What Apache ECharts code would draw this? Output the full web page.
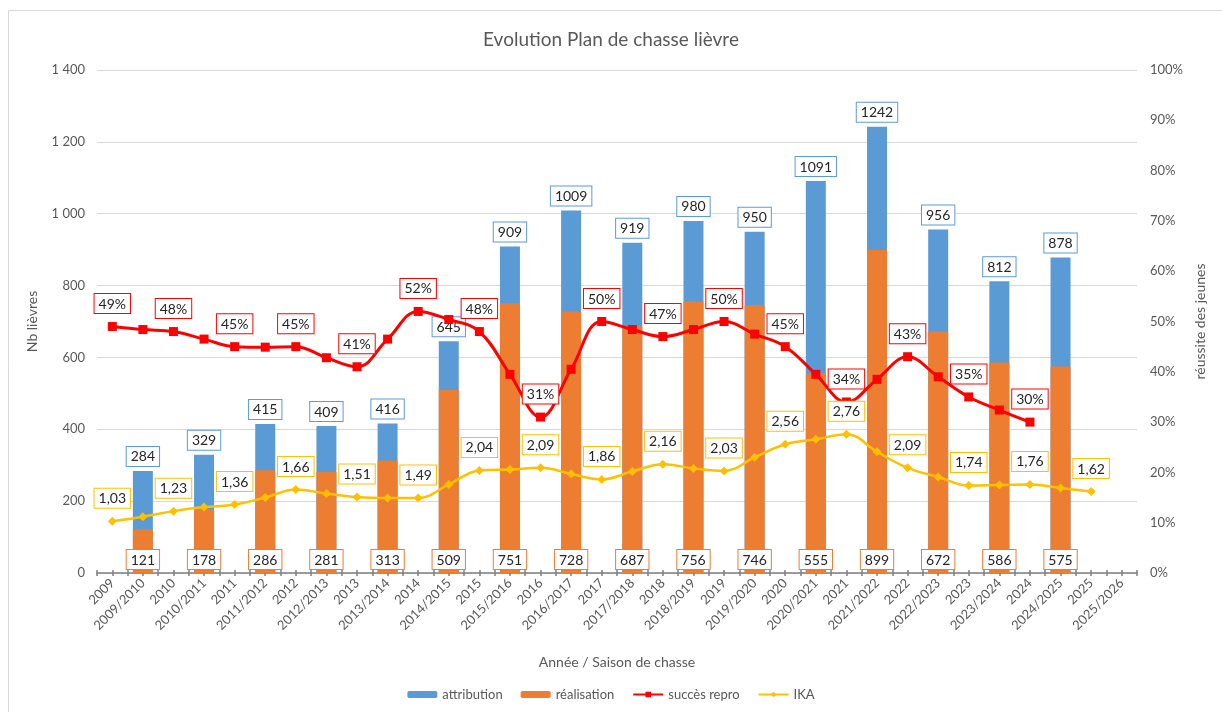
<!DOCTYPE html>
<html>
<head>
<meta charset="utf-8">
<script src="https://cdn.jsdelivr.net/npm/echarts@6/dist/echarts.min.js"></script>
<style>html,body{margin:0;padding:0;background:#fff}#c{width:1222px;height:712px}</style>
</head>
<body>
<div id="c"></div>
<script>
var categories = ['2009','2009/2010','2010','2010/2011','2011','2011/2012','2012','2012/2013','2013','2013/2014','2014','2014/2015','2015','2015/2016','2016','2016/2017','2017','2017/2018','2018','2018/2019','2019','2019/2020','2020','2020/2021','2021','2021/2022','2022','2022/2023','2023','2023/2024','2024','2024/2025','2025','2025/2026'];
var attribution = [284,329,415,409,416,645,909,1009,919,980,950,1091,1242,956,812,878];
var realisation = [121,178,286,281,313,509,751,728,687,756,746,555,899,672,586,575];
var succesRepro = [49,48.4,48,46.5,45,44.9,45,42.8,41,46.5,52,50.4,48,39.5,31,40.5,50,48.4,47,48.4,50,47.5,45,39.5,34,38.5,43,39,35,32.4,30,null,null,null];
var ika = [1.03,1.12,1.23,1.31,1.36,1.50,1.66,1.58,1.51,1.49,1.49,1.76,2.04,2.06,2.09,1.97,1.86,2.02,2.16,2.08,2.03,2.30,2.56,2.66,2.76,2.41,2.09,1.91,1.74,1.75,1.76,1.69,1.62,null];
var leftTicks = {min:0, max:1400, interval:200};
var rightTicks = {min:0, max:100, interval:10};

var FONT = 'Lato';
var txtColor = '#595959';
var isYear = function(n){ return n.indexOf('/') < 0; };

// map season values onto the full category list
var attrData = [], realData = [], si = 0;
categories.forEach(function(c){
  if (!isYear(c)) {
    attrData.push(si < attribution.length ? attribution[si] : '-');
    realData.push(si < realisation.length ? realisation[si] : '-');
    si++;
  } else { attrData.push('-'); realData.push('-'); }
});
var redData = succesRepro.map(function(v,i){ return {value: v, label:{show: isYear(categories[i]) && v != null}}; });
var ikaData = ika.map(function(v,i){ return {value: v, label:{show: isYear(categories[i]) && v != null}}; });
var halfCats = []; for (var i=0;i<categories.length*2;i++) halfCats.push('');

function boxLabel(color, pos, fmt){
  return {show:true, position:pos, formatter:fmt, color:'#262626', fontFamily:FONT, fontSize:14,
    backgroundColor:'#fff', borderColor:color, borderWidth:1, padding:[3,4,2,4]};
}

var chart = echarts.init(document.getElementById('c'), null, {renderer:'canvas'});
chart.setOption({
  animation:false,
  backgroundColor:'#fff',
  graphic:[{type:'rect', shape:{x:8.5,y:10.5,width:1240,height:740}, style:{fill:'none', stroke:'#d9d9d9', lineWidth:1}, silent:true, z:-10}],
  title:{text:'Evolution Plan de chasse lièvre', left:'center', top:25, textStyle:{fontFamily:FONT, fontSize:19, fontWeight:'normal', color:txtColor}},
  legend:{bottom:6, left:'center', itemGap:18, itemWidth:30, itemHeight:7,
    textStyle:{fontFamily:FONT, fontSize:13, color:txtColor},
    data:['attribution','réalisation','succès repro','IKA']},
  grid:{left:97, right:85, top:70, bottom:139},
  xAxis:[
    {type:'category', data:categories, boundaryGap:true,
     name:'Année / Saison de chasse', nameLocation:'middle', nameGap:82,
     nameTextStyle:{fontFamily:FONT, fontSize:14, color:txtColor},
     axisLine:{lineStyle:{color:'#808080', width:1.5}},
     axisTick:{show:false},
     axisLabel:{interval:0, rotate:45, fontFamily:FONT, fontSize:13, color:txtColor, margin:8}},
    {type:'category', data:halfCats, boundaryGap:true, position:'bottom', gridIndex:0,
     axisLine:{show:false}, axisLabel:{show:false}, splitLine:{show:false},
     axisTick:{show:true, interval:0, length:3, inside:false, lineStyle:{color:'#808080', width:1.5}}},
    {type:'category', data:halfCats, boundaryGap:true, position:'bottom', gridIndex:0,
     axisLine:{show:false}, axisLabel:{show:false}, splitLine:{show:false},
     axisTick:{show:true, interval:0, length:3, inside:true, lineStyle:{color:'#808080', width:1.5}}}
  ],
  yAxis:[
    {type:'value', min:leftTicks.min, max:leftTicks.max, interval:leftTicks.interval,
     name:'Nb lièvres', nameLocation:'middle', nameGap:58, nameRotate:90,
     nameTextStyle:{fontFamily:FONT, fontSize:14, color:txtColor},
     axisLine:{show:false}, axisTick:{show:false},
     axisLabel:{fontFamily:FONT, fontSize:13, color:txtColor, margin:12,
       formatter:function(v){ return String(v).replace(/\B(?=(\d{3})+(?!\d))/g,' '); }},
     splitLine:{lineStyle:{color:'#d9d9d9', width:1}}},
    {type:'value', min:rightTicks.min, max:rightTicks.max, interval:rightTicks.interval, position:'right',
     name:'réussite des jeunes', nameLocation:'middle', nameGap:54, nameRotate:90,
     nameTextStyle:{fontFamily:FONT, fontSize:14, color:txtColor},
     axisLine:{show:false}, axisTick:{show:false}, splitLine:{show:false},
     axisLabel:{fontFamily:FONT, fontSize:13, color:txtColor, margin:13, formatter:'{value}%'}},
    {type:'value', min:0, max:10, show:false, splitLine:{show:false}}
  ],
  series:[
    {name:'attribution', type:'bar', data:attrData, barWidth:20, barGap:'-100%',
     itemStyle:{color:'#5b9bd5'}, label:boxLabel('#5b9bd5','top',function(p){return p.value;})},
    {name:'réalisation', type:'bar', data:realData, barWidth:20, barGap:'-100%',
     itemStyle:{color:'#ed7d31'}, label:Object.assign(boxLabel('#ed7d31','insideBottom',function(p){return p.value;}),{distance:4})},
    {name:'succès repro', type:'line', yAxisIndex:1, data:redData, smooth:0.4, connectNulls:false,
     symbol:'rect', symbolSize:9, lineStyle:{color:'#ff0000', width:3}, itemStyle:{color:'#ff0000'},
     label:Object.assign(boxLabel('#ff0000','top',function(p){return Math.round(p.value)+'%';}),{distance:9})},
    {name:'IKA', type:'line', yAxisIndex:2, data:ikaData, smooth:0.4,
     symbol:'diamond', symbolSize:9, lineStyle:{color:'#ffc000', width:2.5}, itemStyle:{color:'#ffc000'},
     label:Object.assign(boxLabel('#ffc000','top',function(p){return p.value.toFixed(2).replace('.',',');}),{distance:9})}
  ]
});
</script>
</body>
</html>
